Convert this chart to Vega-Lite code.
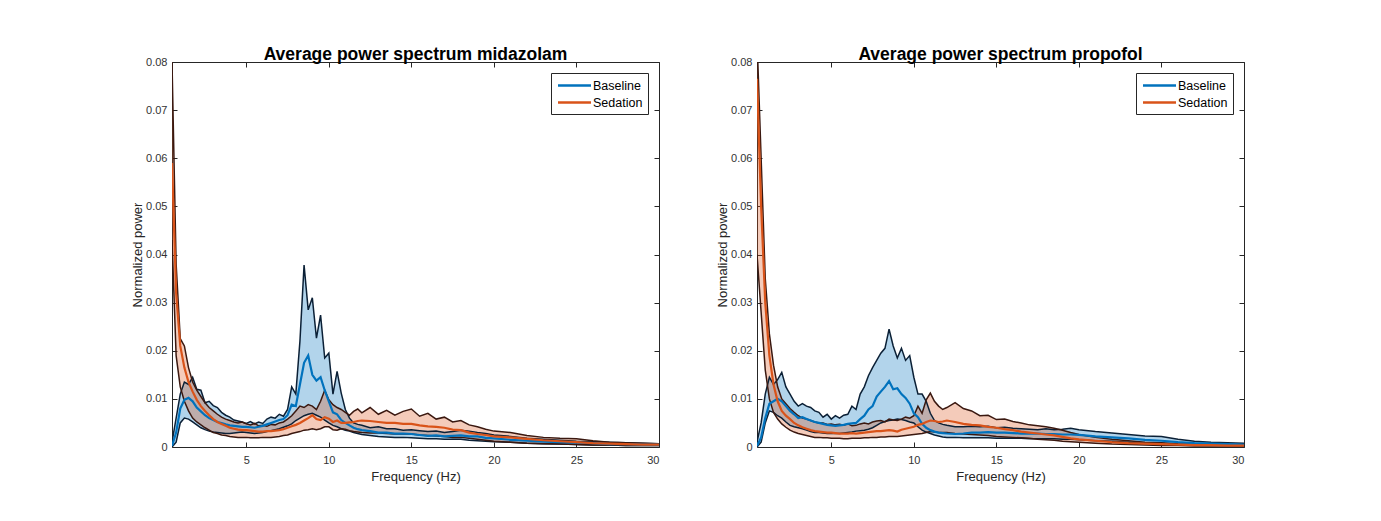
{
"$schema": "https://vega.github.io/schema/vega-lite/v6.json",
"background": "white",
"padding": {"left": 131, "top": 45, "right": 5, "bottom": 5},
"config": {
  "font": "Liberation Sans",
  "view": {"stroke": null},
  "axis": {"grid": false, "domainColor": "#262626", "tickColor": "#262626", "tickSize": -5, "labelColor": "#333333", "labelFontSize": 11, "titleFontSize": 13, "titleFontWeight": "normal", "titleColor": "#262626", "domainWidth": 1, "tickWidth": 1},
  "axisX": {"labelPadding": 12, "titlePadding": 5},
  "axisY": {"labelPadding": 10, "titlePadding": 1},
  "title": {"fontSize": 17.5, "fontWeight": "bold", "color": "#000000", "offset": -7},
  "legend": {"orient": "top-right", "offset": 11, "symbolType": "M-2.75,0H2.75", "symbolSize": 144, "symbolStrokeWidth": 2.5, "symbolOffset": 11, "labelFontSize": 12.5, "labelColor": "#000000", "strokeColor": "#262626", "fillColor": "white", "padding": 5, "rowPadding": 3, "labelOffset": 11}
},
"datasets": {
"mid": [
{"f":0.5,"bl":0,"bm":0.0002,"bh":0.001,"sl":0.043,"sm":0.059,"sh":0.08},
{"f":0.75,"bl":0.001,"bm":0.003,"bh":0.006,"sl":0.019,"sm":0.032,"sh":0.038},
{"f":1,"bl":0.005,"bm":0.008,"bh":0.011,"sl":0.0125,"sm":0.021,"sh":0.0225},
{"f":1.25,"bl":0.006,"bm":0.0098,"bh":0.0135,"sl":0.0095,"sm":0.0165,"sh":0.021},
{"f":1.5,"bl":0.0058,"bm":0.0102,"bh":0.013,"sl":0.0075,"sm":0.0135,"sh":0.0165},
{"f":1.75,"bl":0.0052,"bm":0.0095,"bh":0.0145,"sl":0.006,"sm":0.0115,"sh":0.0135},
{"f":2,"bl":0.0046,"bm":0.0082,"bh":0.012,"sl":0.0052,"sm":0.0098,"sh":0.0118},
{"f":2.25,"bl":0.004,"bm":0.0074,"bh":0.0118,"sl":0.0046,"sm":0.0085,"sh":0.0105},
{"f":2.5,"bl":0.0036,"bm":0.0066,"bh":0.0092,"sl":0.004,"sm":0.0075,"sh":0.0092},
{"f":2.75,"bl":0.0033,"bm":0.006,"bh":0.0095,"sl":0.0035,"sm":0.0066,"sh":0.0082},
{"f":3,"bl":0.0031,"bm":0.0056,"bh":0.0086,"sl":0.003,"sm":0.0058,"sh":0.0075},
{"f":3.25,"bl":0.003,"bm":0.0052,"bh":0.0082,"sl":0.0028,"sm":0.0052,"sh":0.0068},
{"f":3.5,"bl":0.0029,"bm":0.005,"bh":0.0072,"sl":0.0025,"sm":0.0048,"sh":0.0062},
{"f":3.75,"bl":0.0028,"bm":0.0047,"bh":0.0066,"sl":0.0024,"sm":0.0044,"sh":0.0058},
{"f":4,"bl":0.0028,"bm":0.0045,"bh":0.0062,"sl":0.0022,"sm":0.004,"sh":0.0055},
{"f":4.25,"bl":0.0029,"bm":0.0044,"bh":0.0056,"sl":0.0021,"sm":0.0038,"sh":0.0052},
{"f":4.5,"bl":0.003,"bm":0.0043,"bh":0.0054,"sl":0.002,"sm":0.0036,"sh":0.005},
{"f":4.75,"bl":0.0031,"bm":0.0042,"bh":0.0052,"sl":0.002,"sm":0.0035,"sh":0.0052},
{"f":5,"bl":0.003,"bm":0.0042,"bh":0.0049,"sl":0.002,"sm":0.0035,"sh":0.0048},
{"f":5.25,"bl":0.0029,"bm":0.0041,"bh":0.0053,"sl":0.0019,"sm":0.0034,"sh":0.0046},
{"f":5.5,"bl":0.0028,"bm":0.004,"bh":0.0048,"sl":0.0019,"sm":0.0033,"sh":0.0049},
{"f":5.75,"bl":0.0029,"bm":0.0042,"bh":0.0052,"sl":0.0019,"sm":0.0032,"sh":0.0044},
{"f":6,"bl":0.003,"bm":0.0044,"bh":0.0049,"sl":0.002,"sm":0.0032,"sh":0.0045},
{"f":6.25,"bl":0.0032,"bm":0.0047,"bh":0.0058,"sl":0.002,"sm":0.0033,"sh":0.0043},
{"f":6.5,"bl":0.0034,"bm":0.005,"bh":0.0062,"sl":0.002,"sm":0.0033,"sh":0.0047},
{"f":6.75,"bl":0.0036,"bm":0.0053,"bh":0.006,"sl":0.0021,"sm":0.0034,"sh":0.0046},
{"f":7,"bl":0.0038,"bm":0.0056,"bh":0.0068,"sl":0.0022,"sm":0.0035,"sh":0.005},
{"f":7.25,"bl":0.0041,"bm":0.0058,"bh":0.0064,"sl":0.0024,"sm":0.0037,"sh":0.0052},
{"f":7.5,"bl":0.0044,"bm":0.0066,"bh":0.0078,"sl":0.0025,"sm":0.004,"sh":0.0058},
{"f":7.75,"bl":0.0048,"bm":0.0088,"bh":0.0125,"sl":0.0028,"sm":0.0043,"sh":0.0065},
{"f":8,"bl":0.0055,"bm":0.0085,"bh":0.011,"sl":0.003,"sm":0.0046,"sh":0.0075},
{"f":8.25,"bl":0.006,"bm":0.013,"bh":0.022,"sl":0.0032,"sm":0.005,"sh":0.0085},
{"f":8.5,"bl":0.0065,"bm":0.0175,"bh":0.0378,"sl":0.0035,"sm":0.0055,"sh":0.0082},
{"f":8.75,"bl":0.0068,"bm":0.019,"bh":0.0285,"sl":0.0036,"sm":0.006,"sh":0.0088},
{"f":9,"bl":0.007,"bm":0.015,"bh":0.031,"sl":0.0038,"sm":0.0066,"sh":0.0085},
{"f":9.25,"bl":0.0066,"bm":0.0138,"bh":0.0226,"sl":0.0036,"sm":0.0058,"sh":0.0078},
{"f":9.5,"bl":0.0062,"bm":0.0145,"bh":0.0274,"sl":0.0038,"sm":0.0056,"sh":0.0095},
{"f":9.75,"bl":0.0056,"bm":0.0118,"bh":0.0185,"sl":0.0042,"sm":0.0062,"sh":0.0118},
{"f":10,"bl":0.005,"bm":0.0095,"bh":0.0195,"sl":0.0042,"sm":0.0059,"sh":0.0098},
{"f":10.25,"bl":0.0045,"bm":0.0072,"bh":0.011,"sl":0.0036,"sm":0.0052,"sh":0.0088},
{"f":10.5,"bl":0.0042,"bm":0.0068,"bh":0.0157,"sl":0.0035,"sm":0.0055,"sh":0.0082},
{"f":10.75,"bl":0.0038,"bm":0.0056,"bh":0.0112,"sl":0.0038,"sm":0.005,"sh":0.0078},
{"f":11,"bl":0.0035,"bm":0.005,"bh":0.0078,"sl":0.0037,"sm":0.005,"sh":0.0072},
{"f":11.25,"bl":0.0033,"bm":0.0045,"bh":0.006,"sl":0.0034,"sm":0.0051,"sh":0.0066},
{"f":11.5,"bl":0.003,"bm":0.004,"bh":0.005,"sl":0.0032,"sm":0.0052,"sh":0.0074},
{"f":11.75,"bl":0.0028,"bm":0.0037,"bh":0.0047,"sl":0.0031,"sm":0.0054,"sh":0.0079},
{"f":12,"bl":0.0026,"bm":0.0035,"bh":0.0045,"sl":0.003,"sm":0.0055,"sh":0.0071},
{"f":12.5,"bl":0.0024,"bm":0.0033,"bh":0.004,"sl":0.0029,"sm":0.0054,"sh":0.0082},
{"f":13,"bl":0.0022,"bm":0.003,"bh":0.0042,"sl":0.0029,"sm":0.0052,"sh":0.0068},
{"f":13.5,"bl":0.0021,"bm":0.003,"bh":0.0038,"sl":0.0028,"sm":0.005,"sh":0.0076},
{"f":14,"bl":0.002,"bm":0.0028,"bh":0.0038,"sl":0.0027,"sm":0.005,"sh":0.0066},
{"f":14.5,"bl":0.002,"bm":0.0028,"bh":0.0035,"sl":0.0027,"sm":0.0048,"sh":0.0074},
{"f":15,"bl":0.0019,"bm":0.0027,"bh":0.0036,"sl":0.0027,"sm":0.0048,"sh":0.0079},
{"f":15.5,"bl":0.0018,"bm":0.0025,"bh":0.0034,"sl":0.0025,"sm":0.0045,"sh":0.0064},
{"f":16,"bl":0.0017,"bm":0.0023,"bh":0.0032,"sl":0.0024,"sm":0.0043,"sh":0.007},
{"f":16.5,"bl":0.0017,"bm":0.0024,"bh":0.0033,"sl":0.0023,"sm":0.0042,"sh":0.0058},
{"f":17,"bl":0.0016,"bm":0.0022,"bh":0.003,"sl":0.0022,"sm":0.004,"sh":0.0062},
{"f":17.5,"bl":0.0016,"bm":0.0023,"bh":0.0032,"sl":0.002,"sm":0.0036,"sh":0.0052},
{"f":18,"bl":0.0016,"bm":0.0024,"bh":0.0035,"sl":0.002,"sm":0.0035,"sh":0.0055},
{"f":18.5,"bl":0.0014,"bm":0.0022,"bh":0.0033,"sl":0.0018,"sm":0.003,"sh":0.0046},
{"f":19,"bl":0.0013,"bm":0.0022,"bh":0.003,"sl":0.0016,"sm":0.0027,"sh":0.0042},
{"f":19.5,"bl":0.0012,"bm":0.0019,"bh":0.0028,"sl":0.0014,"sm":0.0025,"sh":0.0037},
{"f":20,"bl":0.0011,"bm":0.0018,"bh":0.0025,"sl":0.0012,"sm":0.0022,"sh":0.0033},
{"f":21,"bl":0.001,"bm":0.0015,"bh":0.0022,"sl":0.001,"sm":0.002,"sh":0.003},
{"f":22,"bl":0.0008,"bm":0.0013,"bh":0.0018,"sl":0.0008,"sm":0.0017,"sh":0.0024},
{"f":23,"bl":0.0007,"bm":0.0011,"bh":0.0016,"sl":0.0007,"sm":0.0014,"sh":0.002},
{"f":24,"bl":0.0006,"bm":0.001,"bh":0.0014,"sl":0.0006,"sm":0.0012,"sh":0.0018},
{"f":25,"bl":0.0005,"bm":0.0009,"bh":0.0012,"sl":0.0005,"sm":0.001,"sh":0.0017},
{"f":26,"bl":0.0004,"bm":0.0008,"bh":0.0011,"sl":0.0004,"sm":0.0008,"sh":0.0013},
{"f":27,"bl":0.0004,"bm":0.0006,"bh":0.001,"sl":0.0004,"sm":0.0007,"sh":0.001},
{"f":28,"bl":0.0003,"bm":0.0006,"bh":0.0009,"sl":0.0003,"sm":0.0006,"sh":0.0009},
{"f":29,"bl":0.0003,"bm":0.0005,"bh":0.0008,"sl":0.0003,"sm":0.0005,"sh":0.0008},
{"f":30,"bl":0.0003,"bm":0.0005,"bh":0.0007,"sl":0.0003,"sm":0.0005,"sh":0.0007}
],
"pro": [
{"f":0.5,"bl":0,"bm":0.0002,"bh":0.001,"sl":0.04,"sm":0.0765,"sh":0.085},
{"f":0.75,"bl":0.001,"bm":0.002,"bh":0.005,"sl":0.028,"sm":0.05,"sh":0.06},
{"f":1,"bl":0.005,"bm":0.006,"bh":0.011,"sl":0.016,"sm":0.03,"sh":0.035},
{"f":1.25,"bl":0.0075,"bm":0.009,"bh":0.0145,"sl":0.01,"sm":0.019,"sh":0.0235},
{"f":1.5,"bl":0.0072,"bm":0.0095,"bh":0.013,"sl":0.0072,"sm":0.013,"sh":0.017},
{"f":1.75,"bl":0.0065,"bm":0.01,"bh":0.014,"sl":0.0058,"sm":0.0095,"sh":0.0125},
{"f":2,"bl":0.006,"bm":0.0095,"bh":0.0155,"sl":0.0048,"sm":0.0075,"sh":0.01},
{"f":2.25,"bl":0.0052,"bm":0.0085,"bh":0.0125,"sl":0.0041,"sm":0.0065,"sh":0.009},
{"f":2.5,"bl":0.0045,"bm":0.0075,"bh":0.011,"sl":0.0035,"sm":0.0058,"sh":0.008},
{"f":2.75,"bl":0.0042,"bm":0.0068,"bh":0.0095,"sl":0.0031,"sm":0.005,"sh":0.0072},
{"f":3,"bl":0.004,"bm":0.006,"bh":0.0085,"sl":0.0028,"sm":0.0045,"sh":0.0065},
{"f":3.25,"bl":0.0038,"bm":0.0062,"bh":0.009,"sl":0.0026,"sm":0.0041,"sh":0.006},
{"f":3.5,"bl":0.0035,"bm":0.0058,"bh":0.0085,"sl":0.0024,"sm":0.0038,"sh":0.0058},
{"f":3.75,"bl":0.0032,"bm":0.0055,"bh":0.0082,"sl":0.0022,"sm":0.0035,"sh":0.0055},
{"f":4,"bl":0.003,"bm":0.0052,"bh":0.0075,"sl":0.002,"sm":0.0033,"sh":0.0052},
{"f":4.25,"bl":0.003,"bm":0.005,"bh":0.0072,"sl":0.002,"sm":0.0032,"sh":0.005},
{"f":4.5,"bl":0.0029,"bm":0.0048,"bh":0.0062,"sl":0.0019,"sm":0.0031,"sh":0.005},
{"f":4.75,"bl":0.0028,"bm":0.0046,"bh":0.0068,"sl":0.0019,"sm":0.003,"sh":0.0047},
{"f":5,"bl":0.0028,"bm":0.0045,"bh":0.0058,"sl":0.0018,"sm":0.003,"sh":0.0048},
{"f":5.25,"bl":0.0028,"bm":0.0044,"bh":0.0065,"sl":0.0018,"sm":0.0029,"sh":0.0046},
{"f":5.5,"bl":0.0028,"bm":0.0045,"bh":0.006,"sl":0.0018,"sm":0.0028,"sh":0.0047},
{"f":5.75,"bl":0.0029,"bm":0.0046,"bh":0.0066,"sl":0.0017,"sm":0.0028,"sh":0.0045},
{"f":6,"bl":0.003,"bm":0.0048,"bh":0.0068,"sl":0.0017,"sm":0.0028,"sh":0.0048},
{"f":6.25,"bl":0.0031,"bm":0.0049,"bh":0.0085,"sl":0.0018,"sm":0.0029,"sh":0.0044},
{"f":6.5,"bl":0.0033,"bm":0.005,"bh":0.0078,"sl":0.0018,"sm":0.0028,"sh":0.0045},
{"f":6.75,"bl":0.0034,"bm":0.0058,"bh":0.011,"sl":0.0018,"sm":0.0029,"sh":0.0048},
{"f":7,"bl":0.0035,"bm":0.0065,"bh":0.0125,"sl":0.0019,"sm":0.003,"sh":0.005},
{"f":7.25,"bl":0.0037,"bm":0.0078,"bh":0.0148,"sl":0.0019,"sm":0.0031,"sh":0.0048},
{"f":7.5,"bl":0.004,"bm":0.0085,"bh":0.0165,"sl":0.002,"sm":0.0032,"sh":0.0052},
{"f":7.75,"bl":0.0045,"bm":0.0105,"bh":0.018,"sl":0.002,"sm":0.0033,"sh":0.0054},
{"f":8,"bl":0.005,"bm":0.0115,"bh":0.0195,"sl":0.0021,"sm":0.0033,"sh":0.0055},
{"f":8.25,"bl":0.0053,"bm":0.0125,"bh":0.0205,"sl":0.0021,"sm":0.0034,"sh":0.0052},
{"f":8.5,"bl":0.0055,"bm":0.0137,"bh":0.0245,"sl":0.0022,"sm":0.0035,"sh":0.0058},
{"f":8.75,"bl":0.0056,"bm":0.012,"bh":0.021,"sl":0.0022,"sm":0.0034,"sh":0.0056},
{"f":9,"bl":0.0058,"bm":0.0122,"bh":0.0185,"sl":0.0022,"sm":0.0032,"sh":0.0055},
{"f":9.25,"bl":0.0057,"bm":0.011,"bh":0.0205,"sl":0.0023,"sm":0.0036,"sh":0.0058},
{"f":9.5,"bl":0.0055,"bm":0.0102,"bh":0.018,"sl":0.0024,"sm":0.0038,"sh":0.0062},
{"f":9.75,"bl":0.0052,"bm":0.009,"bh":0.019,"sl":0.0025,"sm":0.004,"sh":0.006},
{"f":10,"bl":0.005,"bm":0.007,"bh":0.0145,"sl":0.0026,"sm":0.0042,"sh":0.0065},
{"f":10.25,"bl":0.0042,"bm":0.0062,"bh":0.011,"sl":0.0027,"sm":0.0046,"sh":0.0085},
{"f":10.5,"bl":0.0035,"bm":0.0048,"bh":0.011,"sl":0.0028,"sm":0.0048,"sh":0.007},
{"f":10.75,"bl":0.0031,"bm":0.004,"bh":0.0095,"sl":0.003,"sm":0.0052,"sh":0.0098},
{"f":11,"bl":0.0028,"bm":0.0035,"bh":0.007,"sl":0.0032,"sm":0.0055,"sh":0.0112},
{"f":11.25,"bl":0.0025,"bm":0.0032,"bh":0.0055,"sl":0.0031,"sm":0.0054,"sh":0.0095},
{"f":11.5,"bl":0.0023,"bm":0.003,"bh":0.005,"sl":0.003,"sm":0.0052,"sh":0.0085},
{"f":11.75,"bl":0.0021,"bm":0.0029,"bh":0.0047,"sl":0.003,"sm":0.0053,"sh":0.0078},
{"f":12,"bl":0.002,"bm":0.0028,"bh":0.0045,"sl":0.003,"sm":0.0055,"sh":0.0082},
{"f":12.5,"bl":0.002,"bm":0.0027,"bh":0.0042,"sl":0.0028,"sm":0.0052,"sh":0.0092},
{"f":13,"bl":0.0019,"bm":0.0028,"bh":0.0042,"sl":0.0027,"sm":0.0048,"sh":0.008},
{"f":13.5,"bl":0.0019,"bm":0.003,"bh":0.0043,"sl":0.0026,"sm":0.0046,"sh":0.0075},
{"f":14,"bl":0.0019,"bm":0.003,"bh":0.0042,"sl":0.0025,"sm":0.0045,"sh":0.0065},
{"f":14.5,"bl":0.0019,"bm":0.0031,"bh":0.0043,"sl":0.0024,"sm":0.0042,"sh":0.0066},
{"f":15,"bl":0.0018,"bm":0.003,"bh":0.004,"sl":0.0022,"sm":0.004,"sh":0.0057},
{"f":15.5,"bl":0.0018,"bm":0.003,"bh":0.0041,"sl":0.0021,"sm":0.0037,"sh":0.0058},
{"f":16,"bl":0.0018,"bm":0.0029,"bh":0.0039,"sl":0.002,"sm":0.0035,"sh":0.0053},
{"f":16.5,"bl":0.0018,"bm":0.0028,"bh":0.0038,"sl":0.0019,"sm":0.0032,"sh":0.005},
{"f":17,"bl":0.0017,"bm":0.0028,"bh":0.0037,"sl":0.0018,"sm":0.003,"sh":0.0046},
{"f":17.5,"bl":0.0017,"bm":0.0028,"bh":0.0036,"sl":0.0016,"sm":0.0028,"sh":0.0044},
{"f":18,"bl":0.0017,"bm":0.0027,"bh":0.0038,"sl":0.0015,"sm":0.0026,"sh":0.0042},
{"f":18.5,"bl":0.0017,"bm":0.0027,"bh":0.0036,"sl":0.0014,"sm":0.0024,"sh":0.0039},
{"f":19,"bl":0.0016,"bm":0.0026,"bh":0.0037,"sl":0.0012,"sm":0.0021,"sh":0.0035},
{"f":19.5,"bl":0.0016,"bm":0.0026,"bh":0.0039,"sl":0.0011,"sm":0.0018,"sh":0.003},
{"f":20,"bl":0.0015,"bm":0.0025,"bh":0.0036,"sl":0.001,"sm":0.0016,"sh":0.0026},
{"f":21,"bl":0.0013,"bm":0.0022,"bh":0.0032,"sl":0.0008,"sm":0.0013,"sh":0.002},
{"f":22,"bl":0.0012,"bm":0.002,"bh":0.0029,"sl":0.0006,"sm":0.001,"sh":0.0016},
{"f":23,"bl":0.001,"bm":0.0018,"bh":0.0026,"sl":0.0005,"sm":0.0008,"sh":0.0013},
{"f":24,"bl":0.0008,"bm":0.0015,"bh":0.0023,"sl":0.0004,"sm":0.0007,"sh":0.001},
{"f":25,"bl":0.0007,"bm":0.0013,"bh":0.0022,"sl":0.0003,"sm":0.0006,"sh":0.0009},
{"f":26,"bl":0.0005,"bm":0.001,"bh":0.0016,"sl":0.0003,"sm":0.0005,"sh":0.0007},
{"f":27,"bl":0.0004,"bm":0.0008,"bh":0.0012,"sl":0.0002,"sm":0.0004,"sh":0.0006},
{"f":28,"bl":0.0004,"bm":0.0007,"bh":0.001,"sl":0.0002,"sm":0.0004,"sh":0.0005},
{"f":29,"bl":0.0003,"bm":0.0006,"bh":0.0009,"sl":0.0002,"sm":0.0003,"sh":0.0005},
{"f":30,"bl":0.0003,"bm":0.0005,"bh":0.0008,"sl":0.0002,"sm":0.0003,"sh":0.0004}
]
},
"hconcat": [
{
  "width": 487, "height": 385,
  "data": {"name": "mid"},
  "title": {"text": "Average power spectrum midazolam"},
  "resolve": {"axis": {"x": "independent", "y": "independent"}},
  "layer": [
    {"mark": {"type": "area", "color": "#0072BD", "opacity": 0.3, "clip": true},
     "encoding": {
       "x": {"field": "f", "type": "quantitative", "scale": {"domain": [0.5, 30], "nice": false, "zero": false}, "axis": {"orient": "bottom", "values": [5, 10, 15, 20, 25, 30], "title": "Frequency (Hz)"}},
       "y": {"field": "bl", "type": "quantitative", "scale": {"domain": [0, 0.08], "nice": false}, "axis": {"orient": "left", "values": [0, 0.01, 0.02, 0.03, 0.04, 0.05, 0.06, 0.07, 0.08], "title": "Normalized power", "labelExpr": "datum.value === 0 ? '0' : format(datum.value, '.2f')"}},
       "y2": {"field": "bh"}}},
    {"mark": {"type": "area", "color": "#D95319", "opacity": 0.3, "clip": true},
     "encoding": {
       "x": {"field": "f", "type": "quantitative", "axis": {"orient": "top", "values": [5, 10, 15, 20, 25, 30], "labels": false, "title": null}},
       "y": {"field": "sl", "type": "quantitative", "axis": {"orient": "right", "values": [0, 0.01, 0.02, 0.03, 0.04, 0.05, 0.06, 0.07, 0.08], "labels": false, "title": null}},
       "y2": {"field": "sh"}}},
    {"mark": {"type": "line", "color": "#0b2036", "strokeWidth": 1.5, "clip": true}, "encoding": {"x": {"field": "f", "type": "quantitative", "axis": null}, "y": {"field": "bl", "type": "quantitative", "axis": null}}},
    {"mark": {"type": "line", "color": "#0b2036", "strokeWidth": 1.5, "clip": true}, "encoding": {"x": {"field": "f", "type": "quantitative", "axis": null}, "y": {"field": "bh", "type": "quantitative", "axis": null}}},
    {"mark": {"type": "line", "color": "#3a1810", "strokeWidth": 1.5, "clip": true}, "encoding": {"x": {"field": "f", "type": "quantitative", "axis": null}, "y": {"field": "sl", "type": "quantitative", "axis": null}}},
    {"mark": {"type": "line", "color": "#3a1810", "strokeWidth": 1.5, "clip": true}, "encoding": {"x": {"field": "f", "type": "quantitative", "axis": null}, "y": {"field": "sh", "type": "quantitative", "axis": null}}},
    {"mark": {"type": "line", "strokeWidth": 2.2, "clip": true}, "encoding": {"x": {"field": "f", "type": "quantitative", "axis": null}, "y": {"field": "bm", "type": "quantitative", "axis": null},
      "color": {"datum": "Baseline", "type": "nominal", "scale": {"domain": ["Baseline", "Sedation"], "range": ["#0072BD", "#D95319"]}, "legend": {"title": null}}}},
    {"mark": {"type": "line", "strokeWidth": 2.2, "clip": true}, "encoding": {"x": {"field": "f", "type": "quantitative", "axis": null}, "y": {"field": "sm", "type": "quantitative", "axis": null},
      "color": {"datum": "Sedation", "type": "nominal"}}}
  ]
},
{
  "width": 487, "height": 385,
  "data": {"name": "pro"},
  "title": {"text": "Average power spectrum propofol"},
  "resolve": {"axis": {"x": "independent", "y": "independent"}},
  "layer": [
    {"mark": {"type": "area", "color": "#0072BD", "opacity": 0.3, "clip": true},
     "encoding": {
       "x": {"field": "f", "type": "quantitative", "scale": {"domain": [0.5, 30], "nice": false, "zero": false}, "axis": {"orient": "bottom", "values": [5, 10, 15, 20, 25, 30], "title": "Frequency (Hz)"}},
       "y": {"field": "bl", "type": "quantitative", "scale": {"domain": [0, 0.08], "nice": false}, "axis": {"orient": "left", "values": [0, 0.01, 0.02, 0.03, 0.04, 0.05, 0.06, 0.07, 0.08], "title": "Normalized power", "labelExpr": "datum.value === 0 ? '0' : format(datum.value, '.2f')"}},
       "y2": {"field": "bh"}}},
    {"mark": {"type": "area", "color": "#D95319", "opacity": 0.3, "clip": true},
     "encoding": {
       "x": {"field": "f", "type": "quantitative", "axis": {"orient": "top", "values": [5, 10, 15, 20, 25, 30], "labels": false, "title": null}},
       "y": {"field": "sl", "type": "quantitative", "axis": {"orient": "right", "values": [0, 0.01, 0.02, 0.03, 0.04, 0.05, 0.06, 0.07, 0.08], "labels": false, "title": null}},
       "y2": {"field": "sh"}}},
    {"mark": {"type": "line", "color": "#0b2036", "strokeWidth": 1.5, "clip": true}, "encoding": {"x": {"field": "f", "type": "quantitative", "axis": null}, "y": {"field": "bl", "type": "quantitative", "axis": null}}},
    {"mark": {"type": "line", "color": "#0b2036", "strokeWidth": 1.5, "clip": true}, "encoding": {"x": {"field": "f", "type": "quantitative", "axis": null}, "y": {"field": "bh", "type": "quantitative", "axis": null}}},
    {"mark": {"type": "line", "color": "#3a1810", "strokeWidth": 1.5, "clip": true}, "encoding": {"x": {"field": "f", "type": "quantitative", "axis": null}, "y": {"field": "sl", "type": "quantitative", "axis": null}}},
    {"mark": {"type": "line", "color": "#3a1810", "strokeWidth": 1.5, "clip": true}, "encoding": {"x": {"field": "f", "type": "quantitative", "axis": null}, "y": {"field": "sh", "type": "quantitative", "axis": null}}},
    {"mark": {"type": "line", "strokeWidth": 2.2, "clip": true}, "encoding": {"x": {"field": "f", "type": "quantitative", "axis": null}, "y": {"field": "bm", "type": "quantitative", "axis": null},
      "color": {"datum": "Baseline", "type": "nominal", "scale": {"domain": ["Baseline", "Sedation"], "range": ["#0072BD", "#D95319"]}, "legend": {"title": null}}}},
    {"mark": {"type": "line", "strokeWidth": 2.2, "clip": true}, "encoding": {"x": {"field": "f", "type": "quantitative", "axis": null}, "y": {"field": "sm", "type": "quantitative", "axis": null},
      "color": {"datum": "Sedation", "type": "nominal"}}}
  ]
}
],
"spacing": 98,
"bounds": "flush",
"resolve": {"scale": {"color": "independent"}, "legend": {"color": "independent"}}
}
